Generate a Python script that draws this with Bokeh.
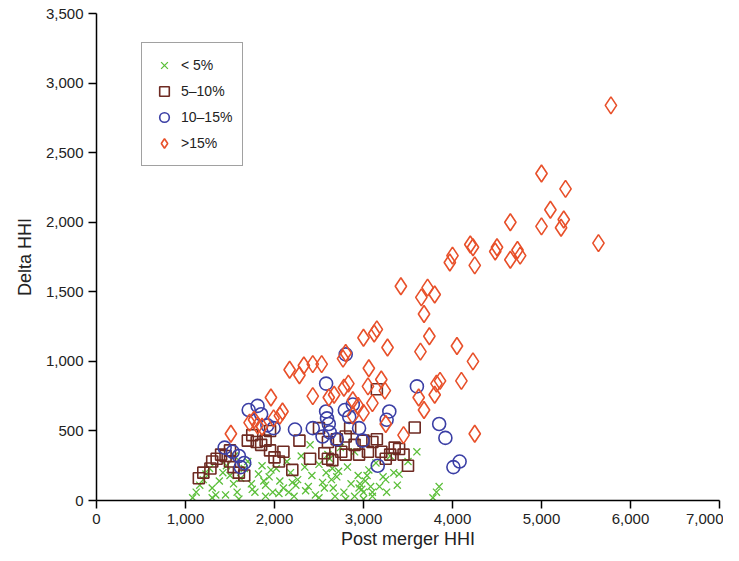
from bokeh.plotting import figure
from bokeh.models import NumeralTickFormatter, Legend, LegendItem, Range1d
from bokeh.embed import file_html
from bokeh.resources import INLINE

# (post merger HHI, delta HHI) by market share group
lt5_x = [1080, 1120, 1160, 1200, 1230, 1270, 1300, 1340, 1380, 1420, 1460, 1500, 1540, 1580,
         1620, 1660, 1700, 1740, 1780, 1820, 1860, 1900, 1940, 1980, 2020, 2060, 2100, 2140,
         2180, 2220, 2260, 2300, 2340, 2380, 2420, 2460, 2500, 2540, 2580, 2620, 2660, 2700,
         2740, 2780, 2820, 2860, 2900, 2940, 2980, 3020, 3060, 3100, 3140, 3180, 3220, 3260,
         3300, 3340, 3380, 1300, 1450, 1600, 1750, 1900, 2050, 2200, 2350, 2500, 2650, 2800,
         2950, 3100, 3250, 3400, 3500, 3600, 3780, 3820, 3850, 1550, 2400, 2600, 2900, 3000,
         2960, 3000, 3040, 3080, 2560, 2640, 2680, 2720, 1880, 1960, 2160, 2240]
lt5_y = [20, 60, 110, 150, 190, 230, 90, 40, 140, 200, 250, 180, 120, 60,
         160, 230, 280, 120, 60, 190, 250, 110, 170, 60, 230, 140, 90, 280,
         200, 30, 150, 320, 240, 100, 180, 40, 260, 130, 200, 300, 90, 170,
         380, 60, 240, 120, 30, 180, 80, 140, 220, 30, 270, 100, 170, 60,
         320, 200, 110, 20, 40, 10, 80, 30, 50, 130, 70, 20, 230, 10,
         90, 60, 150, 190, 280, 350, 20, 60, 100, 320, 400, 330, 350, 10,
         120, 60, 180, 100, 90, 150, 30, 210, 140, 220, 60, 110]

p5_10_x = [1150, 1200, 1280, 1350, 1400, 1450, 1500, 1540, 1600, 1660, 1700, 1750, 1800, 1850,
           1900, 1950, 2050, 2100, 2200, 2280, 2400, 2500, 2560, 2600, 2650, 2700, 2750, 2800,
           2850, 2900, 2950, 3000, 3050, 3100, 3150, 3200, 3250, 3300, 3350, 3400, 3450, 3500,
           3150, 3575, 1500, 1300, 2600, 2800, 1950, 2000]
p5_10_y = [160, 200, 230, 300, 330, 320, 280, 240, 200, 180, 430, 470, 420, 400,
           430, 360, 280, 350, 220, 430, 300, 520, 340, 300, 290, 440, 350, 460,
           520, 400, 330, 430, 350, 420, 440, 350, 300, 330, 380, 370, 330, 250,
           800, 525, 360, 280, 420, 330, 500, 310]

p10_15_x = [2800, 2580, 1710, 1810, 1850, 1920, 1990, 1440, 1530, 1600, 1660, 2230, 2430, 2590,
            2580, 2610, 2620, 2790, 2880, 2840, 2950, 2990, 3260, 3290, 3600, 3160, 3920, 3850,
            4080, 4010, 2700, 2540, 1620]
p10_15_y = [1050, 840, 650, 680, 620, 540, 520, 380, 350, 320, 270, 510, 520, 590,
            640, 550, 490, 650, 690, 600, 520, 430, 580, 640, 820, 250, 450, 550,
            280, 240, 440, 460, 240]

gt15_x = [5780, 5000, 5270, 5100, 4650, 5250, 5220, 5000, 5640, 4500, 4480, 4730, 4760, 4650,
          4200, 4230, 4250, 4000, 3970, 3720, 3650, 3800, 3420, 3680, 3740, 4050, 3150, 3120,
          3000, 3270, 3640, 2800, 2770, 4230, 3060, 2430, 2330, 2530, 2170, 2280, 3200, 3050,
          2830, 2780, 3240, 3860, 3820, 4100, 2670, 2610, 3620, 3800, 1960, 2430, 3100, 2880,
          2940, 2090, 2060, 1990, 1770, 1720, 1810, 1860, 1510, 3250, 3450, 4250, 3680, 3000,
          2880]
gt15_y = [2840, 2350, 2240, 2090, 2000, 2020, 1960, 1970, 1850, 1820, 1790, 1800, 1760, 1730,
          1840, 1820, 1690, 1760, 1710, 1530, 1460, 1480, 1540, 1340, 1180, 1110, 1230, 1200,
          1170, 1100, 1070, 1060, 1020, 1000, 950, 980, 970, 980, 940, 900, 870, 820,
          840, 810, 790, 860, 840, 860, 760, 740, 740, 760, 740, 750, 700, 720,
          680, 640, 610, 590, 580, 560, 540, 530, 480, 550, 470, 480, 650, 630,
          610]

p = figure(width=723, height=551, output_backend="svg", toolbar_location=None, tools="",
           x_range=Range1d(0, 7000), y_range=Range1d(0, 3500),
           min_border_left=96, min_border_right=4, min_border_top=13, min_border_bottom=45)
p.outline_line_color = None
p.grid.visible = False

r1 = p.scatter(lt5_x, lt5_y, marker="x", size=10, line_color="#5cbf3a", line_width=1.3)
r2 = p.scatter(p5_10_x, p5_10_y, marker="square", size=11, line_color="#6e2a22",
               fill_color=None, line_width=1.6)
r3 = p.scatter(p10_15_x, p10_15_y, marker="circle", size=13, line_color="#3b3fa5",
               fill_color=None, line_width=1.6)
r4 = p.scatter(gt15_x, gt15_y, marker="diamond", size=17, line_color="#e8502a",
               fill_color=None, line_width=1.6)

legend = Legend(items=[LegendItem(label="< 5%", renderers=[r1]),
                       LegendItem(label="5\u201310%", renderers=[r2]),
                       LegendItem(label="10\u201315%", renderers=[r3]),
                       LegendItem(label=">15%", renderers=[r4])],
                location=(45, 334), border_line_color="#444444", border_line_width=1.5,
                label_text_font="Liberation Sans", label_text_font_size="14px",
                label_text_color="#222222",
                spacing=2, padding=10, glyph_width=24, glyph_height=24,
                label_height=20)
p.add_layout(legend)

for ax in (p.xaxis, p.yaxis):
    ax.axis_line_width = 1.5
    ax.major_tick_line_width = 1.5
    ax.major_tick_out = 8
    ax.major_tick_in = 0
    ax.minor_tick_line_color = None
    ax.major_label_text_font = "Liberation Sans"
    ax.major_label_text_font_size = "15px"
    ax.major_label_text_color = "#222222"
    ax.axis_label_text_font = "Liberation Sans"
    ax.axis_label_text_font_size = "18px"
    ax.axis_label_text_font_style = "normal"
    ax.axis_label_text_color = "#222222"
    ax.formatter = NumeralTickFormatter(format="0,0")

p.xaxis.ticker = list(range(0, 7001, 1000))
p.yaxis.ticker = list(range(0, 3501, 500))
p.xaxis.axis_label = "Post merger HHI"
p.yaxis.axis_label = "Delta HHI"
p.xaxis.axis_label_standoff = 2
p.yaxis.axis_label_standoff = 8

open("out.html", "w").write(file_html(p, INLINE))
